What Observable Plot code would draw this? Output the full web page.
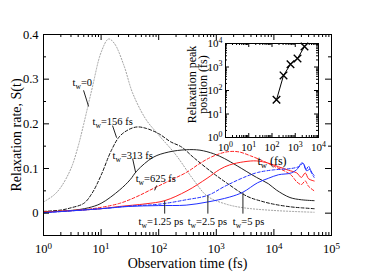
<!DOCTYPE html>
<html><head><meta charset="utf-8">
<script src="https://cdn.jsdelivr.net/npm/d3@7"></script>
<script src="https://cdn.jsdelivr.net/npm/@observablehq/plot@0.6"></script>
<style>
html,body{margin:0;padding:0;background:#fff;}
#wrap{position:relative;width:374px;height:280px;overflow:hidden;background:#fff;}
#wrap svg{position:absolute;}
</style></head><body><div id="wrap"></div>
<script>
// ---- data ----
const tw0T   = [1, 1.5, 2, 3, 4, 5, 7, 10, 13.5, 17, 25, 35, 60, 100, 200, 400, 700, 1500, 3000, 10000, 50000];
const tw0S   = [0.025, 0.04, 0.058, 0.1, 0.15, 0.2, 0.28, 0.36, 0.39, 0.38, 0.33, 0.27, 0.21, 0.175, 0.13, 0.075, 0.038, 0.02, 0.012, 0.006, 0.002];
const tw156T = [1, 2, 3, 5, 7, 10, 15, 21, 30, 42, 60, 100, 160, 250, 400, 870, 1500, 3400, 6000, 10000, 20000, 30000, 50000];
const tw156S = [0.004, 0.007, 0.012, 0.022, 0.045, 0.085, 0.14, 0.172, 0.187, 0.193, 0.19, 0.178, 0.16, 0.148, 0.125, 0.09, 0.068, 0.038, 0.027, 0.02, 0.014, 0.012, 0.01];
const tw313T = [1, 3, 6, 10, 21, 32, 42, 80, 150, 300, 520, 900, 1400, 2300, 5000, 8000, 11000, 19000, 30000, 50000];
const tw313S = [0.003, 0.006, 0.012, 0.022, 0.052, 0.075, 0.095, 0.125, 0.137, 0.142, 0.141, 0.133, 0.122, 0.106, 0.08, 0.066, 0.052, 0.035, 0.03, 0.028];
const tw625T = [1, 5, 10, 21, 40, 80, 150, 310, 500, 770, 1200, 1700, 2500, 4000, 7000, 10000, 15000, 20000, 25000, 30000, 35000, 40000, 50000];
const tw625S = [0.003, 0.008, 0.013, 0.022, 0.036, 0.055, 0.072, 0.092, 0.11, 0.124, 0.134, 0.138, 0.137, 0.128, 0.115, 0.105, 0.095, 0.085, 0.07, 0.064, 0.072, 0.06, 0.05];
const tw1250T = [1, 10, 21, 60, 127, 310, 690, 1150, 1700, 3000, 5000, 8000, 12000, 18000, 25000, 30000, 35000, 40000, 50000];
const tw1250S = [0.002, 0.01, 0.015, 0.021, 0.028, 0.05, 0.078, 0.098, 0.108, 0.115, 0.117, 0.112, 0.104, 0.096, 0.09, 0.08, 0.09, 0.077, 0.072];
const tw2500T = [1, 10, 32, 100, 300, 714, 1400, 3000, 5200, 10000, 20000, 28000, 32000, 36000, 40000, 45000, 50000];
const tw2500S = [0.001, 0.01, 0.016, 0.02, 0.03, 0.04, 0.06, 0.08, 0.091, 0.097, 0.1, 0.105, 0.112, 0.097, 0.105, 0.09, 0.08];
const tw5000T = [1, 10, 30, 100, 300, 700, 1700, 2900, 5200, 8000, 12000, 20000, 26000, 30000, 33000, 37000, 42000, 46000, 50000];
const tw5000S = [0.001, 0.01, 0.015, 0.017, 0.018, 0.025, 0.036, 0.047, 0.068, 0.078, 0.086, 0.09, 0.1, 0.112, 0.11, 0.095, 0.098, 0.09, 0.085];

// inset: relaxation peak position vs waiting time
const insetTw   = [156, 313, 625, 1250, 2500];
const insetPeak = [40, 440, 1300, 2300, 7400];

// tick labels
const xMajor = [1, 10, 100, 1000, 10000, 100000];
const yMajor = [0, 0.1, 0.2, 0.3, 0.4];
const yMinor = [-0.05, 0.05, 0.15, 0.25, 0.35];
const insetMajor = [1, 10, 100, 1000, 10000];

// curve labels
const labelText = ["t_w=0", "t_w=156 fs", "t_w=313 fs", "t_w=625 fs", "t_w=1.25 ps", "t_w=2.5 ps", "t_w=5 ps"];
const labelT = [3.19, 7.1, 15.8, 39.8, 44.8, 318, 1938];
const labelS = [0.293, 0.205, 0.129, 0.077, -0.019, -0.019, -0.019];
const leadT1 = [4.96, 15.8, 35.3, 92, 127, 714, 2900];
const leadS1 = [0.275, 0.196, 0.122, 0.062, -0.001, -0.001, -0.001];
const leadT2 = [6.06, 18.6, 39.8, 85, 127, 714, 2900];
const leadS2 = [0.239, 0.169, 0.091, 0.051, 0.028, 0.04, 0.046];

// ---- helpers ----
function minors(decades){
  const out=[];
  for (let i=0;i<decades.length-1;i++) for (let k=2;k<=9;k++) out.push(k*decades[i]);
  return out;
}
const rows = (T,S) => T.map((t,i)=>({t, s:S[i]}));
const expFmt = d => "10^" + Math.round(Math.log10(d));

function rich(svg){
  d3.select(svg).selectAll("text").each(function(){
    const nodes = this.querySelectorAll("tspan").length ? [...this.querySelectorAll("tspan")] : [this];
    for (const node of nodes){
      const s = node.textContent;
      const m = s.match(/^([^\^_]*)([\^_])(\w)(.*)$/);
      if (!m) continue;
      const sup = m[2] === "^";
      const off = sup ? -4.5 : 3;
      node.textContent = "";
      node.appendChild(document.createTextNode(m[1]));
      const sc = document.createElementNS("http://www.w3.org/2000/svg","tspan");
      sc.setAttribute("font-size","72%");
      sc.setAttribute("dy", off);
      sc.textContent = m[3];
      node.appendChild(sc);
      if (m[4]) {
        const r = document.createElementNS("http://www.w3.org/2000/svg","tspan");
        r.setAttribute("dy", -off);
        r.textContent = m[4];
        node.appendChild(r);
      }
    }
  });
}

// ---- main chart ----
const W=374, H=280, mT=34, mB=45, mL=43, mR=43;
const fw=W-mL-mR, fh=H-mT-mB;
const font = "'Liberation Serif', 'Times New Roman', serif";

const series = [
  {T: tw0T, S: tw0S, stroke: "#a0a0a0", dash: "1.2,1.8"},
  {T: tw156T, S: tw156S, stroke: "#111", dash: "3,2"},
  {T: tw313T, S: tw313S, stroke: "#222", dash: null},
  {T: tw625T, S: tw625S, stroke: "#ff2020", dash: "3,2"},
  {T: tw1250T, S: tw1250S, stroke: "#ff2020", dash: null},
  {T: tw2500T, S: tw2500S, stroke: "#2030ff", dash: "3,2"},
  {T: tw5000T, S: tw5000S, stroke: "#2030ff", dash: null}
];

const xMinor = minors(xMajor);
const labels = labelText.map((text,i)=>({text, t:labelT[i], s:labelS[i], t1:leadT1[i], s1:leadS1[i], t2:leadT2[i], s2:leadS2[i]}));

const main = Plot.plot({
  width: W, height: H, marginTop: mT, marginBottom: mB, marginLeft: mL, marginRight: mR,
  style: {fontFamily: font, fontSize: "12.5px", background: "transparent", color: "black", overflow: "visible"},
  x: {type: "log", domain: [1, 1e5], axis: null},
  y: {domain: [-0.05, 0.4], axis: null},
  marks: [
    ...series.map(s => Plot.line(rows(s.T, s.S), {x: "t", y: "s", stroke: s.stroke, strokeWidth: 1, strokeDasharray: s.dash, curve: "catmull-rom"})),
    Plot.link(labels, {x1: "t1", y1: "s1", x2: "t2", y2: "s2", stroke: "#222", strokeWidth: 1}),
    Plot.text(labels, {x: "t", y: "s", text: "text", textAnchor: "start", lineAnchor: "middle", fontSize: 10.5, fill: "black"}),
    // ticks, inward, on all four sides
    Plot.ruleX(xMajor, {x: d=>d, insetTop: fh-6, stroke: "black"}),
    Plot.ruleX(xMinor, {x: d=>d, insetTop: fh-3, stroke: "black"}),
    Plot.ruleX(xMajor, {x: d=>d, insetBottom: fh-6, stroke: "black"}),
    Plot.ruleX(xMinor, {x: d=>d, insetBottom: fh-3, stroke: "black"}),
    Plot.ruleY(yMajor, {y: d=>d, insetRight: fw-6, stroke: "black"}),
    Plot.ruleY(yMinor, {y: d=>d, insetRight: fw-3, stroke: "black"}),
    Plot.ruleY(yMajor, {y: d=>d, insetLeft: fw-6, stroke: "black"}),
    Plot.ruleY(yMinor, {y: d=>d, insetLeft: fw-3, stroke: "black"}),
    Plot.axisX({ticks: xMajor, tickSize: 0, tickPadding: 9, tickFormat: expFmt, label: null, fontSize: 12.5}),
    Plot.axisY({ticks: yMajor, tickSize: 0, tickPadding: 5, tickFormat: d => d === 0 ? "0" : d.toFixed(1), label: null, fontSize: 12.5}),
    Plot.text(["Observation time (fs)"], {frameAnchor: "bottom", textAnchor: "middle", lineAnchor: "middle", dy: 28, fontSize: 14, fill: "black"}),
    Plot.text(["Relaxation rate, S(t)"], {frameAnchor: "left", textAnchor: "middle", lineAnchor: "middle", rotate: -90, dx: -27, fontSize: 14, fill: "black"}),
    Plot.frame({stroke: "black", strokeWidth: 1})
  ]
});
main.style.left = "0px"; main.style.top = "0px";
rich(main);
document.getElementById("wrap").appendChild(main);

// ---- inset ----
const iW=150, iH=140, imT=13, imB=33, imL=45, imR=12;
const ifw=iW-imL-imR, ifh=iH-imT-imB;
const insetMinor = minors(insetMajor);
const insetRows = insetTw.map((tw,i)=>({tw, p: insetPeak[i]}));
const inset = Plot.plot({
  width: iW, height: iH, marginTop: imT, marginBottom: imB, marginLeft: imL, marginRight: imR,
  style: {fontFamily: font, fontSize: "11px", background: "transparent", color: "black", overflow: "visible"},
  x: {type: "log", domain: [1, 1e4], axis: null},
  y: {type: "log", domain: [1, 1e4], axis: null},
  marks: [
    Plot.frame({fill: "white", stroke: "none"}),
    Plot.line(insetRows, {x: "tw", y: "p", stroke: "black", strokeWidth: 1}),
    Plot.dot(insetRows, {x: "tw", y: "p", symbol: "times", r: 3.5, stroke: "black", strokeWidth: 1.4}),
    Plot.ruleX(insetMajor, {x: d=>d, insetTop: ifh-4, stroke: "black"}),
    Plot.ruleX(insetMinor, {x: d=>d, insetTop: ifh-2, stroke: "black"}),
    Plot.ruleX(insetMajor, {x: d=>d, insetBottom: ifh-4, stroke: "black"}),
    Plot.ruleX(insetMinor, {x: d=>d, insetBottom: ifh-2, stroke: "black"}),
    Plot.ruleY(insetMajor, {y: d=>d, insetRight: ifw-4, stroke: "black"}),
    Plot.ruleY(insetMinor, {y: d=>d, insetRight: ifw-2, stroke: "black"}),
    Plot.ruleY(insetMajor, {y: d=>d, insetLeft: ifw-4, stroke: "black"}),
    Plot.ruleY(insetMinor, {y: d=>d, insetLeft: ifw-2, stroke: "black"}),
    Plot.axisX({ticks: insetMajor, tickSize: 0, tickPadding: 6, tickFormat: expFmt, label: null, fontSize: 11}),
    Plot.axisY({ticks: insetMajor, tickSize: 0, tickPadding: 3, tickFormat: expFmt, label: null, fontSize: 11}),
    Plot.text(["t_w (fs)"], {frameAnchor: "bottom", textAnchor: "middle", lineAnchor: "middle", dy: 24, fontSize: 12, fill: "black"}),
    Plot.text(["Relaxation peak\nposition (fs)"], {frameAnchor: "left", textAnchor: "middle", lineAnchor: "middle", rotate: -90, dx: -28, dy: -6, lineHeight: 0.92, fontSize: 12, fill: "black"}),
    Plot.frame({stroke: "black", strokeWidth: 1})
  ]
});
inset.style.left = "180px"; inset.style.top = "30px";
rich(inset);
document.getElementById("wrap").appendChild(inset);
</script></body></html>
